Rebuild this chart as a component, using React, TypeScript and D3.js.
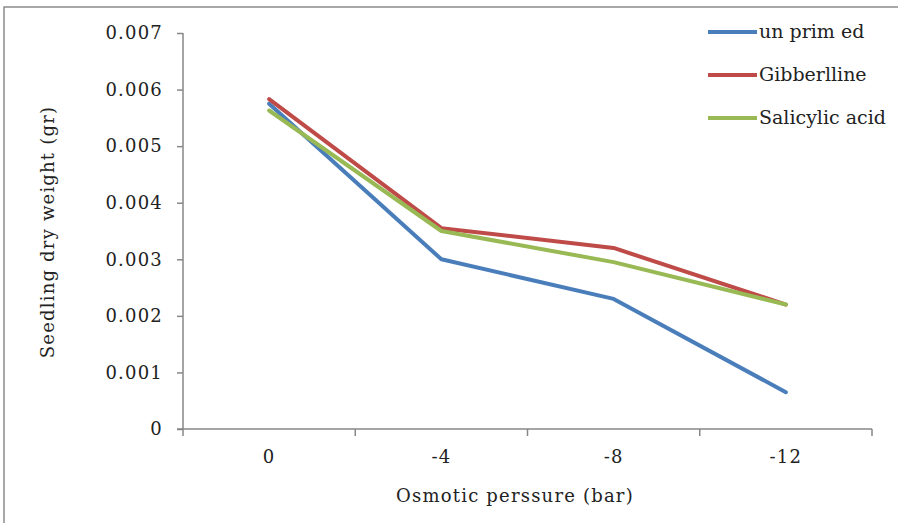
import React, { useEffect, useRef } from "react";
import * as d3 from "d3";

const categories = ["0", "-4", "-8", "-12"];
const seriesNames = ["un prim ed", "Gibberlline", "Salicylic acid"];
const unprimed = [0.00575, 0.003, 0.0023, 0.00065];
const gibberlline = [0.00583, 0.00355, 0.0032, 0.0022];
const salicylic = [0.00563, 0.0035, 0.00295, 0.0022];
const yTicks = [0, 0.001, 0.002, 0.003, 0.004, 0.005, 0.006, 0.007];
const colors = ["#4A7EBB", "#BE4B48", "#98B954"];

const W = 898;
const H = 523;

export default function App() {
  const ref = useRef<SVGSVGElement>(null);
  useEffect(() => {
    const svg = d3.select(ref.current);
    svg.selectAll("*").remove();
    const font = "'DejaVu Serif', serif";
    const fs = "18px";
    const ls = "1.2px";
    const left = 183, right = 872, top = 33, bottom = 429;

    svg.append("rect").attr("x", 4).attr("y", 7).attr("width", W + 10).attr("height", H + 10)
      .attr("fill", "white").attr("stroke", "#8c8c8c").attr("stroke-width", 1.5);

    const x = d3.scaleBand().domain(categories).range([left, right]);
    const y = d3.scaleLinear().domain([0, 0.007]).range([bottom, top]);

    const axisColor = "#878787";
    const ya = svg.append("g").attr("transform", `translate(${left},0)`)
      .call(d3.axisLeft(y).tickValues(yTicks).tickSize(6).tickFormat((d: any) => d === 0 ? "0" : d3.format(".3f")(d)));
    ya.attr("font-family", null).attr("font-size", null);
    ya.select(".domain").attr("stroke", axisColor).attr("stroke-width", 1.5).attr("d", `M0,${top}V${bottom}`);
    ya.selectAll(".tick line").attr("stroke", axisColor).attr("stroke-width", 1.5);
    ya.selectAll(".tick text").style("font-family", font).style("font-size", fs).style("letter-spacing", ls)
      .attr("fill", "#222").attr("x", -20);

    const xa = svg.append("g").attr("transform", `translate(0,${bottom})`);
    xa.append("line").attr("x1", left - 6).attr("x2", right).attr("y1", 0).attr("y2", 0)
      .attr("stroke", axisColor).attr("stroke-width", 1.5);
    const tickXs = categories.map((c) => x(c)!).concat([right]);
    xa.selectAll("line.t").data(tickXs).enter().append("line").attr("class", "t")
      .attr("x1", (d) => d).attr("x2", (d) => d).attr("y1", 0).attr("y2", 7)
      .attr("stroke", axisColor).attr("stroke-width", 1.5);
    xa.selectAll("text").data(categories).enter().append("text")
      .attr("x", (d) => x(d)! + x.bandwidth() / 2).attr("y", 34)
      .attr("text-anchor", "middle").style("font-family", font).style("font-size", fs)
      .style("letter-spacing", ls).attr("fill", "#222").text((d) => d);

    const all = [unprimed, gibberlline, salicylic];
    const line = d3.line<number>()
      .x((_, i) => x(categories[i])! + x.bandwidth() / 2)
      .y((d) => y(d));
    all.forEach((s, i) => {
      svg.append("path").attr("d", line(s)!).attr("fill", "none").attr("stroke", colors[i])
        .attr("stroke-width", 4).attr("stroke-linejoin", "round").attr("stroke-linecap", "round");
    });

    const lg = svg.append("g");
    seriesNames.forEach((n, i) => {
      const ly = 32 + i * 43;
      lg.append("line").attr("x1", 708).attr("x2", 757).attr("y1", ly).attr("y2", ly)
        .attr("stroke", colors[i]).attr("stroke-width", 4);
      lg.append("text").attr("x", 759).attr("y", ly + 6).style("font-family", font).style("font-size", "19px")
        .attr("fill", "#222").text(n);
    });

    svg.append("text").attr("x", 515).attr("y", 502).attr("text-anchor", "middle")
      .style("font-family", font).style("font-size", fs).style("letter-spacing", ls).attr("fill", "#222")
      .text("Osmotic perssure (bar)");
    svg.append("text").attr("transform", `translate(54,232) rotate(-90)`).attr("text-anchor", "middle")
      .style("font-family", font).style("font-size", fs).style("letter-spacing", ls).attr("fill", "#222")
      .text("Seedling dry weight (gr)");
  }, []);
  return (
    <svg ref={ref} width={W} height={H} style={{ position: "absolute", left: 0, top: 0, background: "white" }} />
  );
}
